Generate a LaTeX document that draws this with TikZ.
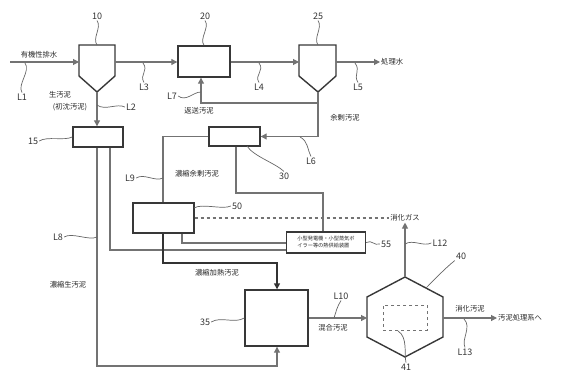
\documentclass[tikz,border=0pt]{standalone}
\usepackage{fontspec}
\setmainfont{Noto Sans CJK JP}
\usetikzlibrary{arrows.meta}
\begin{document}
\begin{tikzpicture}[x=1pt,y=-1pt,
  box/.style={draw=black!78,line width=1.4pt,fill=white,inner sep=0pt},
  conn/.style={draw=black!55,line width=1.1pt},
  arr/.style={conn,-{Triangle[length=6pt,width=6pt]}},
  thk/.style={draw=black!80,line width=1.4pt,-{Triangle[length=6pt,width=6pt]}},
  lbl/.style={font=\fontsize{9}{10}\selectfont,text=black!80,inner sep=1pt},
  jp/.style={font=\fontsize{7.3}{8}\selectfont,text=black!85,inner sep=1pt},
  lead/.style={draw=black!60,line width=0.7pt}]
\useasboundingbox (0,0) rectangle (567,372);

% ---- tanks ----
\draw[box] (79,45) -- (115,45) -- (115,76) -- (97,92) -- (79,76) -- cycle;
\coordinate (t10in) at (79,62);
\coordinate (t10out) at (115,62);
\coordinate (t10bot) at (97,92);
\coordinate (t10top) at (97,45);
\draw[box] (299,45) -- (336,45) -- (336,76) -- (318,92) -- (299,76) -- cycle;
\coordinate (t25in) at (299,62);
\coordinate (t25out) at (336,62);
\coordinate (t25bot) at (318,92);
\coordinate (t25top) at (318,45);

% ---- boxes ----
\node[box,minimum width=52pt,minimum height=31pt] (b20) at (204,61.5) {};
\node[box,minimum width=50pt,minimum height=20pt] (b15) at (98,137) {};
\node[box,minimum width=51pt,minimum height=19pt] (b30) at (234.5,136.5) {};
\node[box,minimum width=61pt,minimum height=30pt] (b50) at (163.5,218) {};
\node[box,minimum width=79pt,minimum height=21pt,align=left,font=\fontsize{5.2}{7}\selectfont,text=black!85] (b55) at (326,242.5) {小型発電機・小型蒸気ボ\\イラー等の熱供給装置};
\node[box,minimum width=63pt,minimum height=56pt] (b35) at (276.5,318) {};

% ---- digester ----
\draw[box] (405,277) -- (443,297) -- (443,337) -- (405,357) -- (367,337) -- (367,297) -- cycle;
\coordinate (hexT) at (405,277);
\coordinate (hexL) at (367,318);
\coordinate (hexR) at (443,318);
\node[draw=black!55,dashed,line width=0.9pt,minimum width=44pt,minimum height=25pt,inner sep=0pt] (d41) at (405,317.5) {};

% ---- text nodes ----
\node[jp] (tin) at (39,55) {有機性排水};
\node[jp,anchor=west] (treated) at (380,62) {処理水};
\node[jp] (raw1) at (60,95) {生汚泥};
\node[jp] (raw2) at (70,107) {(初沈汚泥)};
\node[jp] (ret) at (199,111) {返送汚泥};
\node[jp] (exc) at (345,118) {余剰汚泥};
\node[jp] (cexc) at (197,174) {濃縮余剰汚泥};
\node[jp] (craw) at (68,285) {濃縮生汚泥};
\node[jp] (cheat) at (217,273) {濃縮加熱汚泥};
\node[jp] (mix) at (333,328) {混合汚泥};
\node[jp] (gas) at (405,218) {消化ガス};
\node[jp] (dig) at (470,309) {消化汚泥};
\node[jp,anchor=west] (out) at (497,318) {汚泥処理系へ};

% ---- main flow ----
\coordinate (in0) at (10,62);
\draw[arr] (in0) -- (t10in);
\draw[arr] (t10out) -- (t10out -| b20.west);
\draw[arr] (b20.east |- t25in) -- (t25in);
\draw[arr] (t25out) -- (treated.west);
\draw[arr] (t10bot) -- (t10bot |- b15.north);

% return / excess sludge
\coordinate (j25) at (318,103);
\coordinate (br7) at (201,103);
\draw[arr] (t25bot) -- (t25bot |- b30.east) -- (b30.east);
\draw[arr] (j25) -- (br7) -- (br7 |- b20.south);

% thickened excess sludge to 50
\coordinate (c9) at (163,136.5);
\draw[conn] (b30.west) -- (c9) -- (c9 |- b50.north);

% 30 bottom to 55
\coordinate (c30a) at (236,193);
\coordinate (c30b) at (323,193);
\draw[conn] (c30a |- b30.south) -- (c30a) -- (c30b) -- (c30b |- b55.north);

% 15 to 35 (thickened raw sludge)
\coordinate (c8a) at (97,366);
\coordinate (c8b) at (277,366);
\draw[arr] (c8a |- b15.south) -- (c8a) -- (c8b) -- (c8b |- b35.south);

% 15 to 55
\coordinate (c15) at (110,250);
\draw[conn] (c15 |- b15.south) -- (c15) -- (c15 -| b55.west);

% 55 to 50
\coordinate (c55) at (182,243);
\draw[conn] (c55 -| b55.west) -- (c55) -- (c55 |- b50.south);

% 50 to 35
\coordinate (c50a) at (163,263);
\coordinate (c50b) at (277,263);
\draw[thk] (c50a |- b50.south) -- (c50a) -- (c50b) -- (c50b |- b35.north);

% gas
\draw[conn,dashed] (b50.east) -- (gas.west);
\draw[arr] (hexT) -- (gas.south);

% mixed sludge to digester, digested sludge out
\draw[arr] (b35.east) -- (hexL);
\draw[arr] (hexR) -- (out.west);

% ---- reference labels and leaders ----
\node[lbl] (nL1) at (22,97) {L1};
\draw[lead] (25,63) .. controls +(6,8) and +(-5,-8) .. (nL1.north);
\node[lbl] (n10) at (97,16) {10};
\draw[lead] (n10.south) .. controls +(5,7) and +(-5,-7) .. (t10top);
\node[lbl] (n20) at (205,16) {20};
\draw[lead] (n20.south) .. controls +(5,7) and +(-5,-7) .. (b20.north);
\node[lbl] (n25) at (318,16) {25};
\draw[lead] (n25.south) .. controls +(5,7) and +(-5,-7) .. (t25top);
\node[lbl] (nL3) at (144,87) {L3};
\draw[lead] (143,63) .. controls +(6,8) and +(-5,-8) .. (nL3.north);
\node[lbl] (nL4) at (259,87) {L4};
\draw[lead] (259,63) .. controls +(6,8) and +(-5,-8) .. (nL4.north);
\node[lbl] (nL5) at (358,87) {L5};
\draw[lead] (355,63) .. controls +(6,8) and +(-5,-8) .. (nL5.north);
\node[lbl] (nL2) at (131,107) {L2};
\draw[lead] (97,105) .. controls +(8,6) and +(-8,-4) .. (nL2.west);
\node[lbl] (nL7) at (172,96) {L7};
\draw[lead] (nL7.east) .. controls +(8,6) and +(-8,0) .. (201,92);
\node[lbl] (nL6) at (311,161) {L6};
\draw[lead] (300,137) .. controls +(8,4) and +(-4,-8) .. (nL6.north);
\node[lbl] (n30) at (284,176) {30};
\draw[lead] (247,146) .. controls +(6,10) and +(-8,-8) .. (n30.north);
\node[lbl] (nL9) at (130,178) {L9};
\draw[lead] (nL9.east) .. controls +(8,-5) and +(-8,4) .. (163,178);
\node[lbl] (n15) at (33,141) {15};
\draw[lead] (n15.east) .. controls +(8,-5) and +(-8,4) .. (b15.west);
\coordinate (c50lead) at (194,208);
\node[lbl] (n50) at (237,206) {50};
\draw[lead] (c50lead) .. controls +(8,-5) and +(-8,4) .. (n50.west);
\node[lbl] (n55) at (386,244) {55};
\draw[lead] (b55.east) .. controls +(6,-3) and +(-6,2) .. (n55.west);
\node[lbl] (nL8) at (58,237) {L8};
\draw[lead] (nL8.east) .. controls +(8,-5) and +(-8,4) .. (97,237);
\node[lbl] (n35) at (205,322) {35};
\draw[lead] (n35.east) .. controls +(10,-6) and +(-10,6) .. (b35.west);
\node[lbl] (nL10) at (341,296) {L10};
\draw[lead] (334,318) .. controls +(2,-6) and +(-4,6) .. (nL10.south);
\node[lbl] (nL12) at (440,243) {L12};
\draw[lead] (405,244) .. controls +(8,-5) and +(-8,4) .. (nL12.west);
\node[lbl] (n40) at (461,256) {40};
\draw[lead] (426,288) .. controls +(8,-8) and +(-10,8) .. (n40.south west);
\node[lbl] (n41) at (406,367) {41};
\draw[lead] (398,331) .. controls +(10,6) and +(-2,-8) .. (n41.north);
\node[lbl] (nL13) at (465,352) {L13};
\draw[lead] (464,319) .. controls +(8,8) and +(-4,-8) .. (nL13.north);
\end{tikzpicture}
\end{document}
